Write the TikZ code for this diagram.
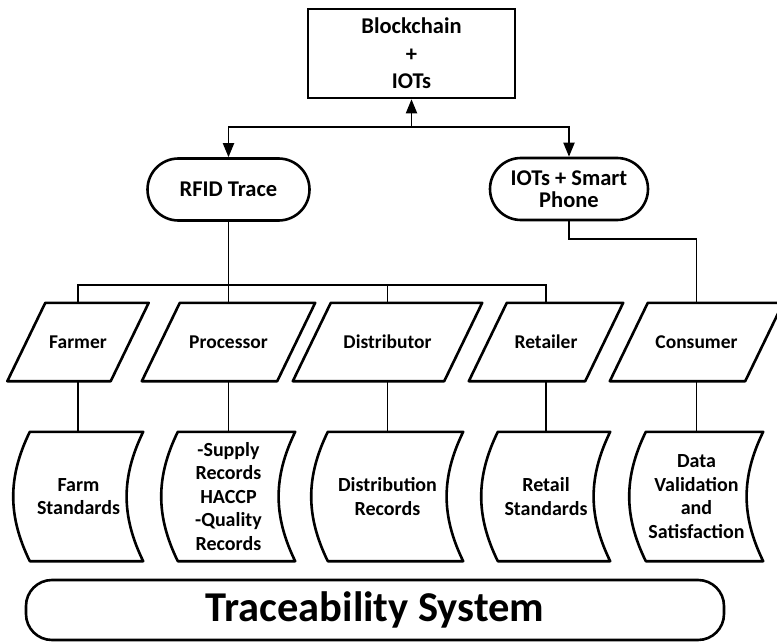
\documentclass[tikz,border=0pt]{standalone}
\usepackage{fontspec}
\setmainfont{Carlito}
\usetikzlibrary{shapes.misc,arrows.meta}
\begin{document}
\begin{tikzpicture}[
    x=1pt, y=-1pt,
    txt/.style={font=\bfseries\fontsize{20}{23.5}\selectfont,
                align=center, inner sep=0pt},
    big/.style={font=\bfseries\fontsize{22.5}{#1}\selectfont},
    box/.style={txt, draw, line width=2.6pt},
    pill/.style={box, rounded rectangle, minimum height=62},
    para/.style={txt, minimum height=78, font=\bfseries\fontsize{19.5}{23.5}\selectfont},
    doc/.style={txt, minimum height=129},
    outline/.style={line width=2.6pt, line join=round},
    link/.style={line width=1.9pt},
    arr/.style={link, -{Triangle[length=14pt, width=11pt]}}
  ]
  \useasboundingbox (0,0) rectangle (777,642);
  % top
  \node[box, big=27.5, minimum width=207, minimum height=89] (bc) at (411.5,53.5)
        {Blockchain\\+\\IOTs};
  \node[pill, big=23, minimum width=162] (rfid) at (228.5,189.5) {RFID Trace};
  \node[pill, big=22, minimum width=158] (iot) at (569,189) {IOTs + Smart\\Phone};
  % actors
  \foreach \n/\x/\w/\t in {farmer/78/141/Farmer, processor/228.5/173/Processor,
      distributor/387.5/189/Distributor, retailer/546/154/Retailer,
      consumer/696.5/173/Consumer} {
    \node[para, minimum width=\w] (\n) at (\x,342) {\t};
    \draw[outline] (\n.south west) -- ([xshift=-38pt]\n.south east)
      -- (\n.north east) -- ([xshift=38pt]\n.north west) -- cycle;
  }
  % records
  \node[doc, minimum width=129] (farmdoc) at (78.5,496.5) {Farm\\Standards};
  \node[doc, minimum width=133] (procdoc) at (228.5,496.5)
        {-Supply\\Records\\HACCP\\-Quality\\Records};
  \node[doc, minimum width=151] (distdoc) at (387.5,496.5) {Distribution\\Records};
  \node[doc, minimum width=128] (retdoc) at (546,496.5) {Retail\\Standards};
  \node[doc, minimum width=133] (consdoc) at (696.5,496.5)
        {Data\\Validation\\and\\Satisfaction};
  \foreach \n in {farmdoc, procdoc, distdoc, retdoc, consdoc} {
    \draw[outline] (\n.north east) to[bend right=26] (\n.south east)
      -- ([xshift=16pt]\n.south west) to[bend left=26]
      ([xshift=16pt]\n.north west) -- cycle;
  }
  % bottom
  \node[box, minimum width=698, minimum height=60, rounded corners=26,
        font=\bfseries\fontsize{42.5}{50}\selectfont] (ts) at (375,610)
        {Traceability System};
  % connectors
  \coordinate (split) at (411.5,127);
  \draw[arr] (split) -- (bc.south);
  \draw[arr] (split) -| (rfid.north);
  \draw[arr] (split) -| (iot.north);
  \coordinate (bus) at (228.5,285);
  \draw[link] (rfid.south) -- (bus);
  \foreach \n in {farmer, processor, distributor, retailer} {
    \draw[link] (bus) -| (\n.north);
  }
  \coordinate (elbow) at (569,239);
  \draw[link] (iot.south) -- (elbow) -| (consumer.north);
  \foreach \p/\d in {farmer/farmdoc, processor/procdoc, distributor/distdoc,
      retailer/retdoc, consumer/consdoc} {
    \draw[link] (\p.south) -- (\p.south |- \d.north);
  }
\end{tikzpicture}
\end{document}
